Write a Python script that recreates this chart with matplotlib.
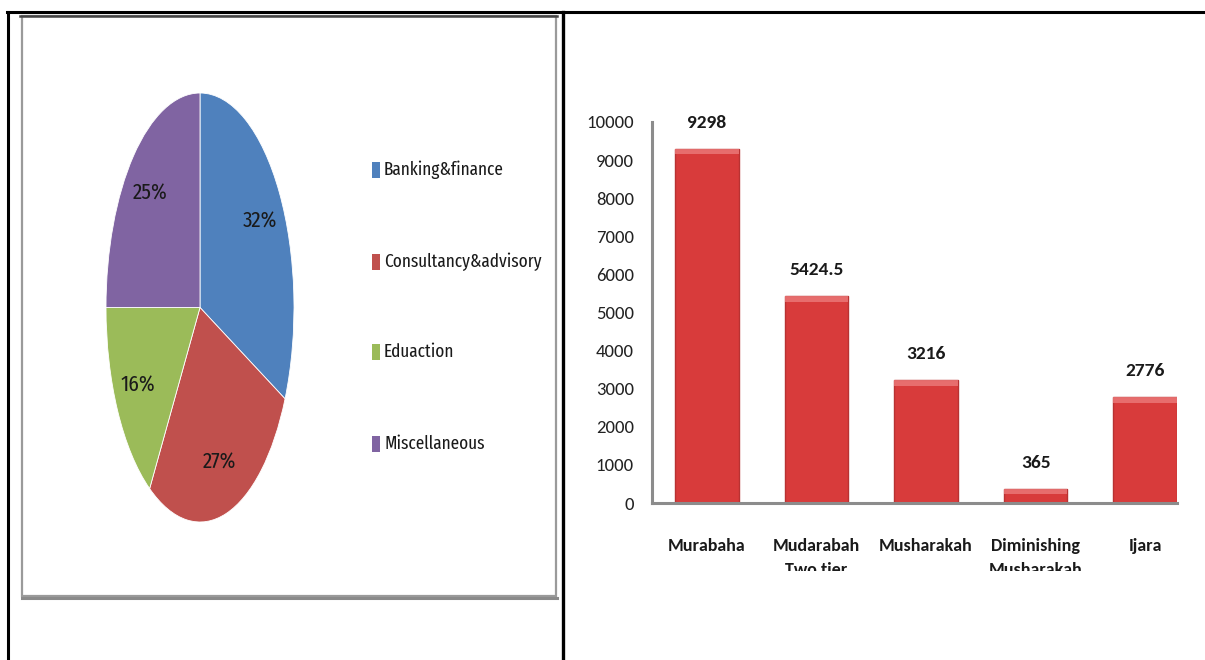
import matplotlib
import matplotlib.pyplot as plt
from matplotlib.patches import Rectangle
from matplotlib.lines import Line2D

matplotlib.use("Agg")

# pie data
sectors = ["Banking&finance", "Consultancy&advisory", "Eduaction", "Miscellaneous"]
shares = [32, 27, 16, 25]
pie_colors = ["#4F81BD", "#C0504D", "#9BBB59", "#8064A2"]

# bar data
products = ["Murabaha", "Mudarabah\nTwo tier", "Musharakah", "Diminishing\nMusharakah", "Ijara"]
amounts = [9298, 5424.5, 3216, 365, 2776]
amount_labels = ["9298", "5424.5", "3216", "365", "2776"]
y_ticks = [0, 1000, 2000, 3000, 4000, 5000, 6000, 7000, 8000, 9000, 10000]

W, H = 1205, 660
NARROW = ["Fira Sans Extra Condensed", "Carlito", "DejaVu Sans"]
CALIBRI = ["Carlito", "Liberation Sans", "DejaVu Sans"]


def fx(px):
    return px / W


def fy(py):
    return 1 - py / H


fig = plt.figure(figsize=(W / 100, H / 100), dpi=100)
fig.patch.set_facecolor("white")

# table borders
fig.add_artist(Line2D([fx(7), 1], [fy(12), fy(12)], color="black", lw=2.2))
fig.add_artist(Line2D([fx(8), fx(8)], [fy(12), 0], color="black", lw=2.2))
fig.add_artist(Line2D([fx(563), fx(563)], [fy(12), 0], color="black", lw=2.4))

# chart frame around the pie
fig.add_artist(Rectangle((fx(22), fy(596)), fx(556) - fx(22), fy(16) - fy(596),
                         transform=fig.transFigure, fill=False, edgecolor="#9a9a9a", lw=1.6))
fig.add_artist(Line2D([fx(20), fx(557)], [fy(16), fy(16)], color="#444444", lw=1.8))
fig.add_artist(Line2D([fx(22), fx(557)], [fy(598), fy(598)], color="#8a8a8a", lw=2.2))

# pie (stretched ellipse)
ax1 = fig.add_axes([fx(106), fy(522), fx(294) - fx(106), fy(93) - fy(522)])
wedges, _, pcts = ax1.pie(shares, colors=pie_colors, startangle=90, counterclock=False,
                          autopct="%d%%", pctdistance=0.75,
                          wedgeprops=dict(linewidth=0.6, edgecolor="white"),
                          textprops=dict(fontsize=16.5, color="#1a1a1a", family=NARROW))
ax1.set_aspect("auto")
ax1.set_xlim(-1, 1)
ax1.set_ylim(-1, 1)

# legend drawn as squares + text
legend_y = [170, 262, 352, 444]
for name, col, ly in zip(sectors, pie_colors, legend_y):
    fig.add_artist(Rectangle((fx(372), fy(ly + 8)), fx(8), fy(ly - 8) - fy(ly + 8),
                             transform=fig.transFigure, facecolor=col, edgecolor="none"))
    fig.text(fx(384), fy(ly), name, fontsize=13.5, family=NARROW, color="#1a1a1a",
             ha="left", va="center")

# bar chart
ax2 = fig.add_axes([fx(652), fy(503), fx(1177) - fx(652), fy(122) - fy(503)])
x = list(range(len(products)))
bars = ax2.bar(x, amounts, width=0.58, color="#D83B3B", edgecolor="#B83232", linewidth=1.0)
for b in bars:
    ax2.add_patch(Rectangle((b.get_x(), b.get_height() - 140), b.get_width(), 140,
                            facecolor="#EC7A7A", edgecolor="none", alpha=0.8))
ax2.set_xlim(-0.5, 4.29)
ax2.set_ylim(0, 10000)
ax2.set_yticks(y_ticks)
ax2.set_yticklabels([str(v) for v in y_ticks], fontsize=13.5, family=CALIBRI, color="#222222")
ax2.set_xticks(x)
ax2.set_xticklabels(products, fontsize=13, family=CALIBRI, fontweight="bold", color="#1a1a1a",
                    linespacing=1.6)
ax2.tick_params(axis="both", length=0)
ax2.tick_params(axis="y", pad=13)
ax2.tick_params(axis="x", pad=25)
for s in ("top", "right"):
    ax2.spines[s].set_visible(False)
for s in ("left", "bottom"):
    ax2.spines[s].set_color("#8c8c8c")
    ax2.spines[s].set_linewidth(2.2)

for xi, v, lab in zip(x, amounts, amount_labels):
    ax2.annotate(lab, xy=(xi, v), xytext=(0, 13), textcoords="offset points",
                 ha="center", va="bottom", fontsize=14, fontweight="bold",
                 family=CALIBRI, color="#1a1a1a")

# the screenshot cuts off the second line of the category labels
fig.add_artist(Rectangle((fx(566), 0), 1 - fx(566), fy(571), transform=fig.transFigure,
                         facecolor="white", edgecolor="none", zorder=10))

fig.savefig("out.png", dpi=100, facecolor="white")
